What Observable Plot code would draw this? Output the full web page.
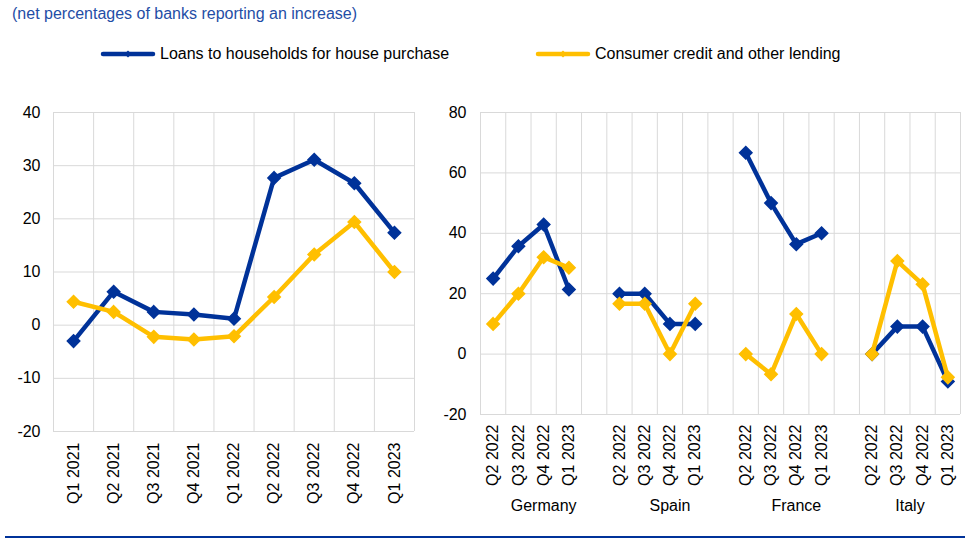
<!DOCTYPE html>
<html><head><meta charset="utf-8">
<script src="https://cdn.jsdelivr.net/npm/d3@7"></script>
<script src="https://cdn.jsdelivr.net/npm/@observablehq/plot@0.6"></script>
<style>
body{margin:0;background:#fff;font-family:"Liberation Sans",Arial,sans-serif;}
#wrap{position:relative;width:965px;height:540px;overflow:hidden;background:#fff;}
#subtitle{position:absolute;left:12px;top:5px;font-size:16px;line-height:18px;color:#1f4ea6;white-space:nowrap;}
.leg{position:absolute;top:45px;font-size:16px;line-height:18px;color:#000;display:flex;align-items:center;white-space:nowrap;}
.leg svg{display:block;margin-right:4px;}
#left{position:absolute;left:0;top:100px;}
#right{position:absolute;left:420px;top:100px;}
#rule{position:absolute;left:5px;right:0;top:536px;height:2px;background:#003299;}
</style>
</head><body>
<div id="wrap">
  <div id="subtitle">(net percentages of banks reporting an increase)</div>
  <div class="leg" id="leg1" style="left:100px"></div>
  <div class="leg" id="leg2" style="left:535px"></div>
  <div id="left"></div>
  <div id="right"></div>
  <div id="rule"></div>
</div>
<script>
// ---- data ----
const seriesNames = ["Loans to households for house purchase", "Consumer credit and other lending"];
const seriesColors = ["#003299", "#FFBF00"];

// Left panel: euro area
const quarters = ["Q1 2021","Q2 2021","Q3 2021","Q4 2021","Q1 2022","Q2 2022","Q3 2022","Q4 2022","Q1 2023"];
const housingEA  = [-3.0, 6.3, 2.5, 2.0, 1.2, 27.7, 31.1, 26.7, 17.4];
const consumerEA = [4.4, 2.5, -2.2, -2.7, -2.1, 5.3, 13.3, 19.4, 10.0];
const leftYTicks = [-20, -10, 0, 10, 20, 30, 40];

// Right panel: countries
const countries = ["Germany", "Spain", "France", "Italy"];
const countryQuarters = ["Q2 2022","Q3 2022","Q4 2022","Q1 2023"];
const germanyHousing  = [25.0, 35.7, 42.9, 21.4];
const germanyConsumer = [10.0, 20.0, 32.1, 28.6];
const spainHousing    = [20.0, 20.0, 10.0, 10.0];
const spainConsumer   = [16.7, 16.7, 0.0, 16.7];
const franceHousing   = [66.7, 50.0, 36.4, 40.0];
const franceConsumer  = [0.0, -6.7, 13.3, 0.0];
const italyHousing    = [0.0, 9.1, 9.1, -9.1];
const italyConsumer   = [0.0, 30.8, 23.1, -7.7];
const rightYTicks = [-20, 0, 20, 40, 60, 80];

// ---- legend ----
function swatch(color){
  return `<svg width="56" height="10"><line x1="3" y1="5" x2="53" y2="5" stroke="${color}" stroke-width="4.5" stroke-linecap="round"/><path d="M28,1.5L31.5,5L28,8.5L24.5,5Z" fill="${color}"/></svg>`;
}
document.getElementById("leg1").innerHTML = swatch(seriesColors[0]) + seriesNames[0];
document.getElementById("leg2").innerHTML = swatch(seriesColors[1]) + seriesNames[1];

const font = {fontFamily:"'Liberation Sans', Arial, sans-serif", fontSize:"16px", color:"#000", background:"transparent", overflow:"visible"};
const grid = "#d9d9d9";

// ---- left chart ----
const leftHouse = quarters.map((q,i)=>({i, v: housingEA[i]}));
const leftCons  = quarters.map((q,i)=>({i, v: consumerEA[i]}));
const leftPlot = Plot.plot({
  width: 420, height: 420,
  marginLeft: 53, marginRight: 6, marginTop: 12, marginBottom: 89,
  style: font,
  x: {domain: [-0.5, quarters.length - 0.5], ticks: d3.range(quarters.length), tickFormat: i => quarters[i],
      tickRotate: -90, tickSize: 0, tickPadding: 11, label: null},
  y: {domain: [-20, 40], ticks: leftYTicks, tickFormat: d => `${d}`, tickSize: 0, tickPadding: 13, label: null},
  marks: [
    Plot.ruleY(leftYTicks, {stroke: grid, strokeWidth: 1}),
    Plot.ruleX(d3.range(quarters.length + 1).map(i => i - 0.5), {stroke: grid, strokeWidth: 1}),
    Plot.line(leftHouse, {x: "i", y: "v", stroke: seriesColors[0], strokeWidth: 4.5}),
    Plot.dot(leftHouse, {x: "i", y: "v", symbol: "diamond2", r: 5.6, fill: seriesColors[0], stroke: seriesColors[0]}),
    Plot.line(leftCons, {x: "i", y: "v", stroke: seriesColors[1], strokeWidth: 4.5}),
    Plot.dot(leftCons, {x: "i", y: "v", symbol: "diamond2", r: 5.6, fill: seriesColors[1], stroke: seriesColors[1]})
  ]
});
document.getElementById("left").appendChild(leftPlot);

// ---- right chart ----
const housingByCountry = [germanyHousing, spainHousing, franceHousing, italyHousing];
const consumerByCountry = [germanyConsumer, spainConsumer, franceConsumer, italyConsumer];
const rightLabels = [];
const rightHouse = [], rightCons = [], groupCenters = [];
countries.forEach((c, ci) => {
  const start = rightLabels.length;
  countryQuarters.forEach((q, qi) => {
    const idx = rightLabels.length;
    rightLabels.push(q);
    rightHouse.push({i: idx, v: housingByCountry[ci][qi], c});
    rightCons.push({i: idx, v: consumerByCountry[ci][qi], c});
  });
  const hasGap = ci < countries.length - 1;
  if (hasGap) rightLabels.push("");
  const len = rightLabels.length - start;
  groupCenters.push(start + len / 2 - 0.5);
});
const nR = rightLabels.length;
const rightPlot = Plot.plot({
  width: 545, height: 420,
  marginLeft: 60, marginRight: 5, marginTop: 12, marginBottom: 106,
  style: font,
  x: {domain: [-0.5, nR - 0.5], ticks: d3.range(nR), tickFormat: i => rightLabels[i],
      tickRotate: -90, tickSize: 0, tickPadding: 10, label: null},
  y: {domain: [-20, 80], ticks: rightYTicks, tickFormat: d => `${d}`, tickSize: 0, tickPadding: 14, label: null},
  marks: [
    Plot.ruleY(rightYTicks, {stroke: grid, strokeWidth: 1}),
    Plot.ruleX(d3.range(nR + 1).map(i => i - 0.5), {stroke: grid, strokeWidth: 1}),
    Plot.line(rightHouse, {x: "i", y: "v", z: "c", stroke: seriesColors[0], strokeWidth: 4.5}),
    Plot.dot(rightHouse, {x: "i", y: "v", symbol: "diamond2", r: 5.6, fill: seriesColors[0], stroke: seriesColors[0]}),
    Plot.line(rightCons, {x: "i", y: "v", z: "c", stroke: seriesColors[1], strokeWidth: 4.5}),
    Plot.dot(rightCons, {x: "i", y: "v", symbol: "diamond2", r: 5.6, fill: seriesColors[1], stroke: seriesColors[1]}),
    Plot.text(countries, {x: groupCenters, text: d => d, frameAnchor: "bottom", dy: 96, fontSize: 16, fill: "#000"})
  ]
});
document.getElementById("right").appendChild(rightPlot);
</script>
</body></html>
